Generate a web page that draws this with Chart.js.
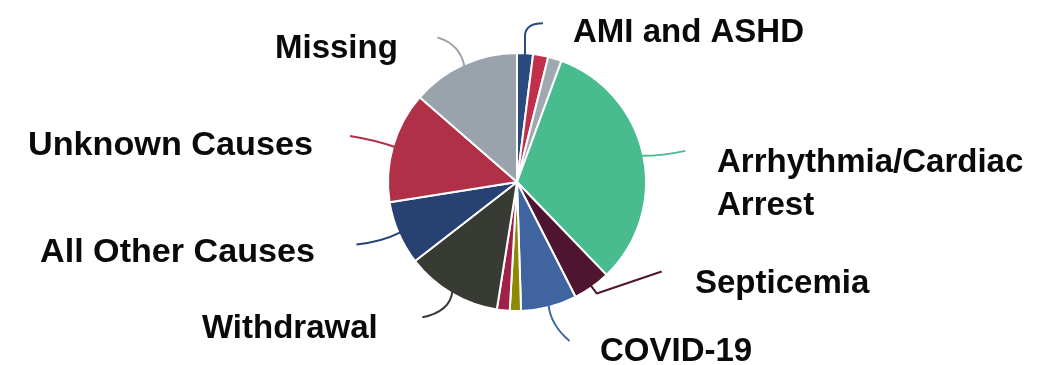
<!DOCTYPE html>
<html>
<head>
<meta charset="utf-8">
<script src="https://cdn.jsdelivr.net/npm/chart.js@4/dist/chart.umd.min.js"></script>
<style>
html,body{margin:0;padding:0;background:#fff;}
#wrap{width:1053px;height:365px;position:relative;}
</style>
</head>
<body>
<div id="wrap"><canvas id="c" width="1053" height="365"></canvas></div>
<script>
// ---- data ----
const categories = ["AMI and ASHD", "Unlabeled A", "Unlabeled B", "Arrhythmia/Cardiac Arrest", "Septicemia", "COVID-19", "Unlabeled C", "Unlabeled D", "Withdrawal", "All Other Causes", "Unknown Causes", "Missing"];
const shares = [2.0, 1.9, 1.7, 32.2, 4.7, 7.0, 1.4, 1.6, 12.0, 8.0, 13.9, 13.6];
const sliceColors = ["#2b4a80", "#c0304a", "#a0a8b0", "#48bc8e", "#4f1530", "#4064a0", "#8c8a00", "#a0204a", "#383a34", "#274272", "#b03048", "#9aa2ac"];
const displayLines = [["AMI and ASHD"], null, null, ["Arrhythmia/Cardiac", "Arrest"], ["Septicemia"], ["COVID-19"], null, null, ["Withdrawal"], ["All Other Causes"], ["Unknown Causes"], ["Missing"]];

// label / leader layout (pixels)
const layoutSpec = {
  0: {tx: 573, ty: 42, path: [[0, -20, 0, 0], [18, -32, 1, -12]]},
  3: {tx: 717, ty: 172, path: [[44, -5, 22, 0]]},
  4: {tx: 695, ty: 293, path: [[6, 8, 0, 0], [71, -14, 0, 0]]},
  5: {tx: 600, ty: 361, path: [[21, 36, 2, 20]]},
  8: {tx: 202, ty: 338, path: [[-30, 26, -2, 20]]},
  9: {tx: 40, ty: 262, path: [[-44, 12, -20, 10]], w: 275},
  10: {tx: 28, ty: 155, path: [[-45, -11, -20, -7]], w: 285},
  11: {tx: 275, ty: 58, path: [[-27, -29, -4, -22]]}
};

const labelPlugin = {
  id: 'leaderLabels',
  afterDraw(chart) {
    const ctx = chart.ctx;
    const meta = chart.getDatasetMeta(0);
    ctx.save();
    meta.data.forEach((arc, i) => {
      const spec = layoutSpec[i];
      if (!spec) return;
      const mid = (arc.startAngle + arc.endAngle) / 2;
      const r = arc.outerRadius - 2;
      const sx = arc.x + Math.cos(mid) * r;
      const sy = arc.y + Math.sin(mid) * r;
      ctx.strokeStyle = sliceColors[i];
      ctx.lineWidth = 2;
      ctx.lineJoin = 'round';
      ctx.beginPath();
      ctx.moveTo(sx, sy);
      let px = sx, py = sy;
      spec.path.forEach(seg => {
        const ex = sx + seg[0], ey = sy + seg[1];
        const cx = px + seg[2], cy = py + seg[3];
        if (seg[2] === 0 && seg[3] === 0) ctx.lineTo(ex, ey);
        else ctx.quadraticCurveTo(cx, cy, ex, ey);
        px = ex; py = ey;
      });
      ctx.stroke();
      ctx.fillStyle = '#0a0a0a';
      ctx.font = 'bold 33px "Liberation Sans", Arial, sans-serif';
      ctx.textBaseline = 'alphabetic';
      ctx.textAlign = 'left';
      displayLines[i].forEach((line, k) => {
        const y = spec.ty + k * 43;
        if (spec.w) {
          const mw = ctx.measureText(line).width;
          const s = spec.w / mw;
          ctx.save();
          ctx.translate(spec.tx, y);
          ctx.scale(s, 1);
          ctx.fillText(line, 0, 0);
          ctx.restore();
        } else {
          ctx.fillText(line, spec.tx, y);
        }
      });
    });
    ctx.restore();
  }
};

new Chart(document.getElementById('c'), {
  type: 'pie',
  data: {
    labels: categories,
    datasets: [{
      data: shares,
      backgroundColor: sliceColors,
      borderColor: '#ffffff',
      borderWidth: 2
    }]
  },
  options: {
    responsive: false,
    animation: false,
    radius: 129,
    layout: {padding: {left: 380, right: 399, top: 50, bottom: 51}},
    plugins: {legend: {display: false}, tooltip: {enabled: false}}
  },
  plugins: [labelPlugin]
});
</script>
</body>
</html>
